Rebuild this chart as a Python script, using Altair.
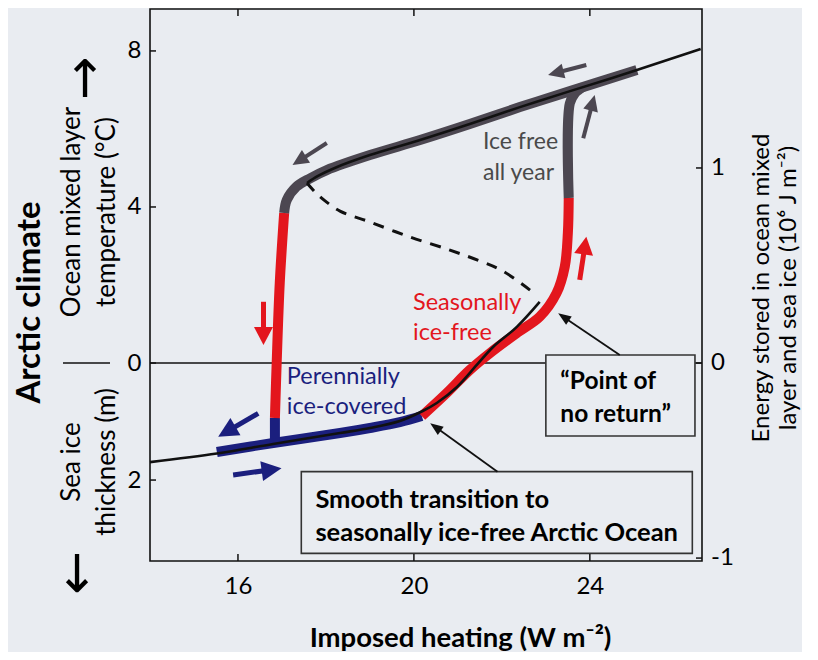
import math
import altair as alt
import pandas as pd

# ---------------- layout / scales ----------------
W, H = 552, 552
F_DOMAIN = [14.0, 26.55]      # imposed heating (W m-2)
E_DOMAIN = [-1.015, 1.815]    # energy (10^6 J m-2)

FONT = "Lato"
RED = "#e3161d"
BLUE = "#1b1f7e"
GRAY = "#4c4751"
BLACK = "#111111"
BG = "#e9ecf1"

# ---------------- tick values / labels ----------------
x_ticks = [16, 20, 24]
left_tick_E = [1.6, 0.8, 0.0, -0.6]
left_tick_labels = ["8", "4", "0", "2"]
right_ticks = [1, 0, -1]
right_tick_labels = ["1", "0", "-1"]

# ---------------- curves ----------------
# thin black: lower stable branch continuing to the point of no return
lower_F = [14.00, 15.52, 16.80, 18.32, 19.00, 19.68, 20.20, 20.52, 20.98, 21.43, 21.80, 22.34, 22.86]
lower_E = [-0.508, -0.464, -0.415, -0.359, -0.333, -0.297, -0.246, -0.205, -0.123, -0.010, 0.082, 0.185, 0.313]
# thin black: upper (ice-free) branch
upper_F = [17.57, 17.82, 18.20, 19.00, 20.14, 21.27, 22.41, 23.55, 25.07, 26.52]
upper_E = [0.923, 0.959, 1.000, 1.066, 1.143, 1.225, 1.312, 1.394, 1.502, 1.610]
# dashed unstable branch
dash_F = [22.64, 22.02, 21.50, 20.82, 19.91, 19.00, 18.32, 17.98, 17.75, 17.57]
dash_E = [0.374, 0.472, 0.523, 0.579, 0.646, 0.723, 0.779, 0.831, 0.877, 0.923]

# thick hysteresis path
blue_F = [15.52, 16.80, 18.32, 19.00, 19.68, 20.18]
blue_E = [-0.456, -0.410, -0.359, -0.333, -0.303, -0.272]
blue_stub_F = [16.84, 16.84]
blue_stub_E = [-0.420, -0.282]
red_left_F = [16.84, 16.88, 16.95, 17.05]
red_left_E = [-0.282, 0.0, 0.410, 0.769]
gray_upper_F = [17.05, 17.11, 17.33, 17.64, 18.02, 19.00, 20.14, 21.27, 22.41, 23.55, 25.07]
gray_upper_E = [0.769, 0.836, 0.904, 0.947, 0.989, 1.066, 1.143, 1.225, 1.312, 1.394, 1.502]
red_right_F = [20.18, 20.74, 21.27, 21.73, 22.33, 22.86, 23.24, 23.43, 23.50, 23.52]
red_right_E = [-0.272, -0.155, -0.036, 0.051, 0.152, 0.237, 0.357, 0.494, 0.666, 0.846]
gray_right_F = [23.52, 23.545, 23.66, 23.84]
gray_right_E = [0.846, 1.331, 1.383, 1.415]

# arrows: tail -> tip
gray_arrow_F0 = [23.92, 18.02, 23.85]
gray_arrow_E0 = [1.528, 1.128, 1.152]
gray_arrow_F1 = [23.05, 17.24, 24.11]
gray_arrow_E1 = [1.477, 1.015, 1.374]
red_arrow_F0 = [23.77, 16.58]
red_arrow_E0 = [0.426, 0.314]
red_arrow_F1 = [23.92, 16.58]
red_arrow_E1 = [0.648, 0.092]
blue_arrow_F0 = [16.46, 15.89]
blue_arrow_E0 = [-0.258, -0.574]
blue_arrow_F1 = [15.55, 16.99]
blue_arrow_E1 = [-0.378, -0.540]
black_arrow_F0 = [24.68, 21.90]
black_arrow_E0 = [0.041, -0.557]
black_arrow_F1 = [23.28, 20.37]
black_arrow_E1 = [0.255, -0.309]

# annotation texts and the anchor of their first line
ice_free_text = "Ice free\nall year"
seasonal_text = "Seasonally\nice-free"
perennial_text = "Perennially\nice-covered"
ponr_text = "\u201cPoint of\nno return\u201d"
smooth_text = "Smooth transition to\nseasonally ice-free Arctic Ocean"
ice_free_pos = (21.57, 1.135)
seasonal_pos = (19.98, 0.308)
perennial_pos = (17.11, -0.072)
ponr_pos = (23.33, -0.096)
smooth_pos = (17.76, -0.702)
ponr_box = ([23.0], [26.39], [0.041], [-0.374])
smooth_box = ([17.44], [26.33], [-0.557], [-0.976])

x_title = "Imposed heating (W m\u207b\u00b2)"
left_title = "Arctic climate"
temp_title = "Ocean mixed layer\ntemperature (\u00b0C)"
ice_title = "Sea ice\nthickness (m)"
right_title = "Energy stored in ocean mixed\nlayer and sea ice (10\u2076 J m\u207b\u00b2)"

# ---------------- helpers ----------------
KX = W / (F_DOMAIN[1] - F_DOMAIN[0])
KY = H / (E_DOMAIN[1] - E_DOMAIN[0])

label_expr = " : ".join(f"datum.value == {v} ? '{t}'" for v, t in zip(left_tick_E, left_tick_labels)) + " : ''"

X_AXIS = alt.Axis(
    values=x_ticks, ticks=False, domain=False, grid=False, labelFlush=False,
    labelFont=FONT, labelFontSize=24, labelColor="black", labelPadding=13,
    title=x_title, titleFont=FONT, titleFontSize=27.5, titleFontWeight="bold",
    titleColor="black", titleX=310, titleY=77, titleBaseline="middle")

Y_AXIS = alt.Axis(
    orient="left", values=left_tick_E, labelExpr=label_expr, ticks=False, domain=False,
    grid=False, labelFlush=False, labelFont=FONT, labelFontSize=24, labelColor="black",
    labelPadding=9, title=left_title, titleFont=FONT, titleFontSize=33,
    titleFontWeight="bold", titleColor="black", titleAngle=270, titleX=-121, titleY=293,
    titleAlign="center", titleBaseline="middle")


def X(f="F"):
    return alt.X(f"{f}:Q", scale=alt.Scale(domain=F_DOMAIN, nice=False, zero=False), axis=X_AXIS)


def Y(f="E"):
    return alt.Y(f"{f}:Q", scale=alt.Scale(domain=E_DOMAIN, nice=False, zero=False), axis=Y_AXIS)


def line(F, E, color, width, interp="catmull-rom", dash=None):
    df = pd.DataFrame({"F": F, "E": E, "i": list(range(len(F)))})
    kw = dict(color=color, strokeWidth=width, strokeCap="butt", strokeJoin="round", interpolate=interp)
    if dash:
        kw["strokeDash"] = dash
    return alt.Chart(df).mark_line(**kw).encode(x=X(), y=Y(), order="i:Q")


def arrows(F0, E0, F1, E1, color, shaft, head_len, head_w):
    rows = []
    for f0, e0, f1, e1 in zip(F0, E0, F1, E1):
        dx = (f1 - f0) * KX
        dy = -(e1 - e0) * KY
        n = math.hypot(dx, dy)
        ux, uy = dx / n, dy / n
        back = 0.6 * head_len
        rows.append(dict(F0=f0, E0=e0, F1=f1, E1=e1,
                         Fs=f1 - ux * back / KX, Es=e1 + uy * back / KY,
                         ang=math.degrees(math.atan2(dx, -dy)) % 360))
    df = pd.DataFrame(rows)
    hw = head_w / 2 / head_len
    shape = f"M0,0L{hw:.3f},1L{-hw:.3f},1Z"
    s = alt.Chart(df).mark_rule(color=color, strokeWidth=shaft).encode(
        x=X("F0"), y=Y("E0"), x2="Fs:Q", y2="Es:Q")
    h = alt.Chart(df).mark_point(shape=shape, filled=True, size=4 * head_len ** 2,
                                 color=color, opacity=1, strokeWidth=0).encode(
        x=X("F1"), y=Y("E1"), angle=alt.Angle("ang:Q", scale=None))
    return [s, h]


def label(pos, text, color, size, weight="normal", lh=30):
    df = pd.DataFrame({"F": [pos[0]], "E": [pos[1]], "t": [text]})
    return alt.Chart(df).mark_text(font=FONT, fontSize=size, fontWeight=weight, color=color,
                                   align="left", baseline="middle", lineBreak="\n",
                                   lineHeight=lh).encode(x=X(), y=Y(), text="t:N")


def box(b):
    df = pd.DataFrame({"F1": b[0], "F2": b[1], "E1": b[2], "E2": b[3]})
    return alt.Chart(df).mark_rect(fill=BG, stroke="#333333", strokeWidth=1.6).encode(
        x=X("F1"), x2="F2:Q", y=Y("E1"), y2="E2:Q")


def outside_text(text, px, py, size, weight="normal", angle=0, lh=30, font=FONT):
    df = pd.DataFrame({"t": [text]})
    return alt.Chart(df).mark_text(font=font, fontSize=size, fontWeight=weight, color="black",
                                   align="center", baseline="middle", angle=angle,
                                   lineBreak="\n", lineHeight=lh).encode(
        x=alt.value(px), y=alt.value(py), text="t:N")


# ---------------- layers ----------------
layers = []

zero_df = pd.DataFrame({"E": [0.0]})
layers.append(alt.Chart(zero_df).mark_rule(color=BLACK, strokeWidth=1.4).encode(
    y=Y(), x=alt.value(0), x2=alt.value(W)))
layers.append(alt.Chart(zero_df).mark_rule(color=BLACK, strokeWidth=1.4).encode(
    y=Y(), x=alt.value(-87), x2=alt.value(-40)))

layers.append(box(ponr_box))
layers.append(box(smooth_box))

# thick path
layers.append(line(blue_F, blue_E, BLUE, 10))
layers.append(line(blue_stub_F, blue_stub_E, BLUE, 10, interp="linear"))
layers.append(line(red_left_F, red_left_E, RED, 10))
layers.append(line(gray_upper_F, gray_upper_E, GRAY, 10))
layers.append(line(red_right_F, red_right_E, RED, 10))
layers.append(line(gray_right_F, gray_right_E, GRAY, 10))

# thin equilibrium lines
layers.append(line(lower_F, lower_E, BLACK, 2.6))
layers.append(line(upper_F, upper_E, BLACK, 2.6))
layers.append(line(dash_F, dash_E, BLACK, 3, dash=[11, 9]))

# arrows
layers += arrows(gray_arrow_F0, gray_arrow_E0, gray_arrow_F1, gray_arrow_E1, GRAY, 4, 16, 15)
layers += arrows(red_arrow_F0, red_arrow_E0, red_arrow_F1, red_arrow_E1, RED, 5, 18, 19)
layers += arrows(blue_arrow_F0, blue_arrow_E0, blue_arrow_F1, blue_arrow_E1, BLUE, 5, 20, 20)
layers += arrows(black_arrow_F0, black_arrow_E0, black_arrow_F1, black_arrow_E1, BLACK, 1.8, 13, 10)

# annotations
layers.append(label(ice_free_pos, ice_free_text, "#4a4a4a", 23, lh=31))
layers.append(label(seasonal_pos, seasonal_text, RED, 23.5, lh=30))
layers.append(label(perennial_pos, perennial_text, BLUE, 23.5, lh=30))
layers.append(label(ponr_pos, ponr_text, "black", 24.5, weight="bold", lh=33))
layers.append(label(smooth_pos, smooth_text, "black", 25.5, weight="bold", lh=33))

# inward ticks
layers.append(alt.Chart(pd.DataFrame({"F": x_ticks})).mark_rule(color=BLACK, strokeWidth=1.5).encode(
    x=X(), y=alt.value(H), y2=alt.value(H - 7)))
layers.append(alt.Chart(pd.DataFrame({"F": x_ticks})).mark_rule(color=BLACK, strokeWidth=1.5).encode(
    x=X(), y=alt.value(0), y2=alt.value(7)))
layers.append(alt.Chart(pd.DataFrame({"E": left_tick_E})).mark_rule(color=BLACK, strokeWidth=1.5).encode(
    y=Y(), x=alt.value(0), x2=alt.value(6)))
layers.append(alt.Chart(pd.DataFrame({"E": right_ticks})).mark_rule(color=BLACK, strokeWidth=1.5).encode(
    y=Y(), x=alt.value(W), x2=alt.value(W - 6)))

# right-hand scale labels
layers.append(alt.Chart(pd.DataFrame({"E": right_ticks, "t": right_tick_labels})).mark_text(
    font=FONT, fontSize=24, color="black", align="left", baseline="middle").encode(
    y=Y(), x=alt.value(W + 9), text="t:N"))

# margin titles
layers.append(outside_text(temp_title, -78, 203, 26, angle=270, lh=35))
layers.append(outside_text(ice_title, -78, 453, 26, angle=270, lh=35))
layers.append(outside_text(right_title, 612, 279, 24, angle=270, lh=27))
layers.append(outside_text("\u2191", -65, 72, 52, font="DejaVu Sans"))
layers.append(outside_text("\u2193", -73, 567, 52, font="DejaVu Sans"))

chart = alt.layer(*layers).properties(
    width=W, height=H,
    autosize=alt.AutoSizeParams(type="none"),
    padding={"left": 142, "top": 1, "right": 100, "bottom": 91},
    background=BG,
).configure_view(stroke=BLACK, strokeWidth=1.6)

chart.save("out.html", embed_options={"renderer": "svg", "actions": False})
